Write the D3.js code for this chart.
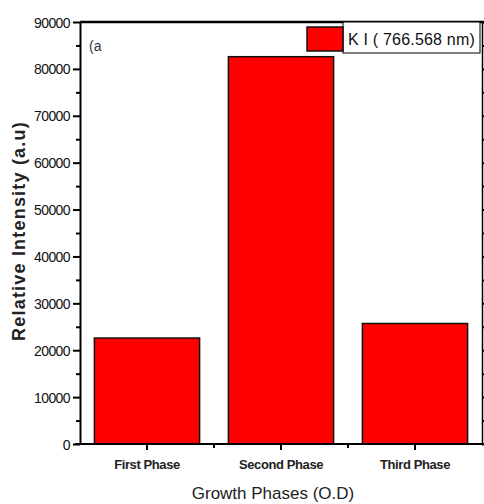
<!DOCTYPE html>
<html>
<head>
<meta charset="utf-8">
<script src="https://cdn.jsdelivr.net/npm/d3@7"></script>
<style>
  body { margin: 0; background: #fff; }
  svg { display: block; font-family: Arial, "Liberation Sans", sans-serif; }
</style>
</head>
<body>
<div id="chart"></div>
<script>
const categories = ["First Phase", "Second Phase", "Third Phase"];
const intensity = [22600, 82600, 25700];
const yTicks = [0, 10000, 20000, 30000, 40000, 50000, 60000, 70000, 80000, 90000];
const yMinorTicks = [5000, 15000, 25000, 35000, 45000, 55000, 65000, 75000, 85000];
const seriesName = "K I ( 766.568 nm)";

const width = 484;
const height = 504;
const plotLeft = 80, plotRight = 482, plotTop = 22, plotBottom = 444;

const svg = d3.select("#chart")
    .append("svg")
    .attr("width", width)
    .attr("height", height);

const x = d3.scaleBand()
    .domain(categories)
    .range([plotLeft, plotRight])
    .paddingInner(0.215)
    .paddingOuter(0.1075);

const y = d3.scaleLinear()
    .domain([0, 90000])
    .range([plotBottom, plotTop]);

// bars
svg.selectAll("rect.bar")
    .data(intensity)
    .enter().append("rect")
    .attr("class", "bar")
    .attr("x", (d, i) => x(categories[i]))
    .attr("y", d => y(d))
    .attr("width", x.bandwidth())
    .attr("height", d => y(0) - y(d))
    .attr("fill", "#ff0000")
    .attr("stroke", "#111")
    .attr("stroke-width", 1.5);

// left axis
const yAxis = svg.append("g")
    .attr("transform", `translate(${plotLeft},0)`)
    .call(d3.axisLeft(y).tickValues(yTicks).tickSize(7).tickSizeOuter(0).tickFormat(d3.format("d")));
yAxis.select(".domain").attr("stroke-width", 2);
yAxis.selectAll(".tick line").attr("stroke-width", 2);
yAxis.selectAll(".tick text")
    .attr("font-size", 14)
    .attr("letter-spacing", -0.6)
    .attr("fill", "#111")
    .attr("x", -10)
    .attr("dy", "0.36em");

svg.append("g")
    .attr("transform", `translate(${plotLeft},0)`)
    .call(d3.axisLeft(y).tickValues(yMinorTicks).tickSize(4).tickFormat(""))
    .call(g => g.select(".domain").remove())
    .selectAll(".tick line").attr("stroke-width", 2);

// right axis (labels fall outside the picture)
const rAxis = svg.append("g")
    .attr("transform", `translate(${plotRight},0)`)
    .call(d3.axisRight(y).tickValues(yTicks.concat(yMinorTicks)).tickSize(5).tickSizeOuter(0).tickFormat(""));
rAxis.select(".domain").attr("stroke-width", 1.5);
rAxis.selectAll(".tick line").attr("stroke-width", 2);

// top line
svg.append("line")
    .attr("x1", plotLeft).attr("x2", width)
    .attr("y1", plotTop).attr("y2", plotTop)
    .attr("stroke", "#000").attr("stroke-width", 2.5);

// bottom axis
const xAxis = svg.append("g")
    .attr("transform", `translate(0,${plotBottom})`)
    .call(d3.axisBottom(x).tickSize(6).tickSizeOuter(0));
xAxis.select(".domain").attr("d", `M${plotLeft - 5},0H${width}`).attr("stroke-width", 2);
xAxis.selectAll(".tick line").attr("stroke-width", 2);
xAxis.selectAll(".tick text")
    .attr("font-size", 13)
    .attr("font-weight", "bold")
    .attr("letter-spacing", -0.4)
    .attr("fill", "#222")
    .attr("y", 16);

const minorX = categories.slice(1).map(c => x(c) - x.step() * x.paddingInner() / 2);
svg.append("g")
    .selectAll("line")
    .data(minorX)
    .enter().append("line")
    .attr("x1", d => d).attr("x2", d => d)
    .attr("y1", plotBottom).attr("y2", plotBottom + 4)
    .attr("stroke", "#000").attr("stroke-width", 2);

// axis titles
svg.append("text")
    .attr("transform", `translate(25,231) rotate(-90)`)
    .attr("text-anchor", "middle")
    .attr("font-size", 18)
    .attr("font-weight", "bold")
    .attr("letter-spacing", 1.2)
    .attr("fill", "#222")
    .text("Relative Intensity (a.u)");

svg.append("text")
    .attr("x", 273)
    .attr("y", 499)
    .attr("text-anchor", "middle")
    .attr("font-size", 17)
    .attr("fill", "#222")
    .text("Growth Phases (O.D)");

// panel label
svg.append("text")
    .attr("x", 89)
    .attr("y", 51)
    .attr("font-size", 14)
    .attr("fill", "#334")
    .text("(a");

// legend
const legend = svg.append("g");
legend.append("rect")
    .attr("x", 343).attr("y", plotTop)
    .attr("width", 137).attr("height", 31)
    .attr("fill", "#fff")
    .attr("stroke", "#000").attr("stroke-width", 1);
legend.append("rect")
    .attr("x", 307).attr("y", 27)
    .attr("width", 36).attr("height", 24)
    .attr("fill", "#ff0000")
    .attr("stroke", "#111").attr("stroke-width", 1.5);
legend.append("text")
    .attr("x", 348).attr("y", 45)
    .attr("font-size", 16)
    .attr("letter-spacing", 0.2)
    .attr("fill", "#111")
    .text(seriesName);
</script>
</body>
</html>
